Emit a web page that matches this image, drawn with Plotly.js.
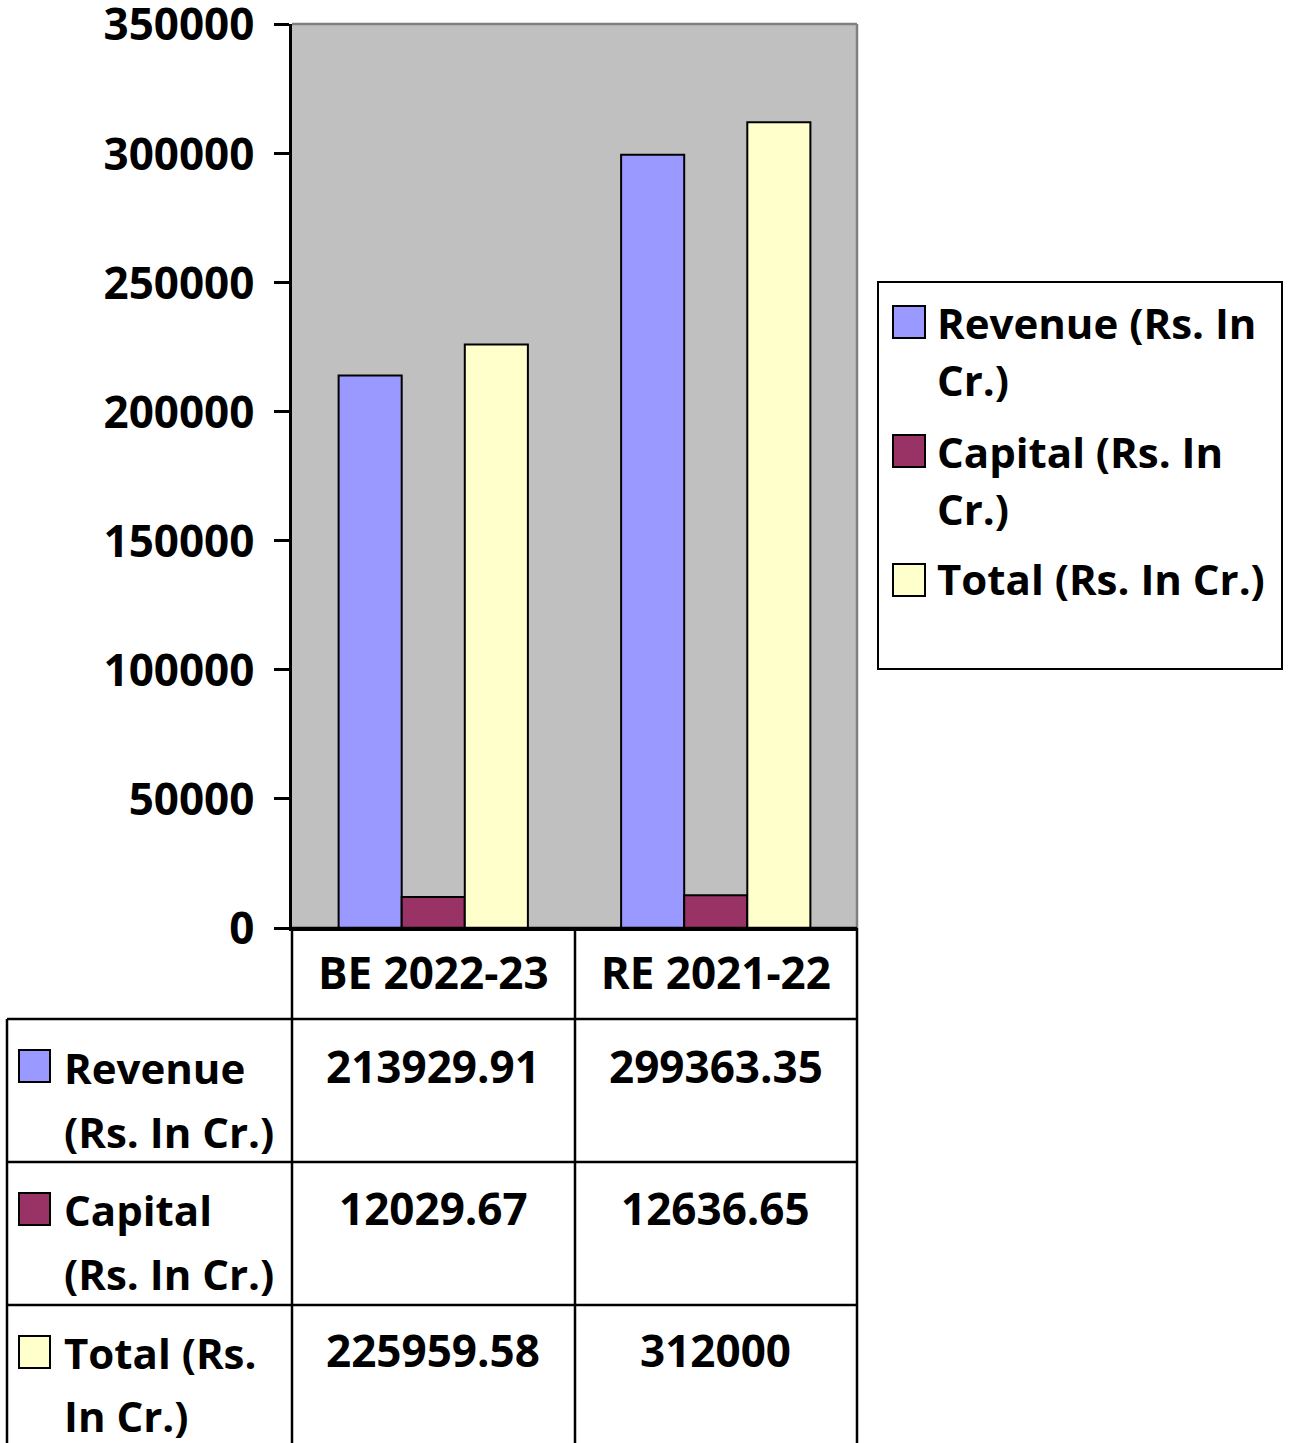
<!DOCTYPE html>
<html>
<head>
<meta charset="utf-8">
<script src="https://cdn.plot.ly/plotly-3.0.1.min.js"></script>
<style>html,body{margin:0;padding:0;background:#fff;}#chart{width:1290px;height:1443px;}</style>
</head>
<body>
<div id="chart"></div>
<script>
const categories = ['BE 2022-23', 'RE 2021-22'];
const revenue = [213929.91, 299363.35];
const capital = [12029.67, 12636.65];
const total = [225959.58, 312000];
const seriesNames = ['Revenue (Rs. In Cr.)', 'Capital (Rs. In Cr.)', 'Total (Rs. In Cr.)'];
const yTicks = [0, 50000, 100000, 150000, 200000, 250000, 300000, 350000];
const legendLines = [['Revenue (Rs. In', 'Cr.)'], ['Capital (Rs. In', 'Cr.)'], ['Total (Rs. In Cr.)']];
const tableLabelLines = [['Revenue', '(Rs. In Cr.)'], ['Capital', '(Rs. In Cr.)'], ['Total (Rs.', 'In Cr.)']];

const colors = ['#9999FF', '#993366', '#FFFFCC'];
const seriesValues = [revenue, capital, total];
const FONT = '"Open Sans", "Noto Sans", sans-serif';
const FS = 42;
const FSNUM = 44;

// pixel -> paper helpers (plot area: x 292..857, y 24..928)
const L = 292, R = 857, T = 24, B = 928;
const px = v => (v - L) / (R - L);
const py = v => (B - v) / (B - T);

const traces = seriesValues.map((vals, i) => ({
  type: 'bar',
  name: seriesNames[i],
  x: categories,
  y: vals,
  marker: {color: colors[i], line: {color: '#000', width: 2}},
  hoverinfo: 'x+y+name'
}));

const shapes = [];
const annotations = [];
const line = (x0, y0, x1, y1, color, w) => shapes.push({type: 'line', xref: 'paper', yref: 'paper',
  x0: px(x0), y0: py(y0), x1: px(x1), y1: py(y1), line: {color: color || '#000', width: w || 2.5}});

// plot area gray border (top & right)
line(L, T, R, T, '#808080', 2.5);
line(R, T, R, B, '#808080', 2.5);

// data table grid
line(L, B, R, B);
[1019, 1162, 1305].forEach(y => line(7, y, R, y));
line(7, 1019, 7, 1460);
[L, 575, R].forEach(x => line(x, B, x, 1460));

const txtFont = {family: FONT, size: FS, weight: 700, color: '#000'};
const numFont = {family: FONT, size: FSNUM, weight: 700, color: '#000'};

// table values
const rowCenters = [1066, 1208, 1350];
seriesValues.forEach((vals, i) => {
  vals.forEach((v, j) => {
    annotations.push({xref: 'x', yref: 'paper', x: categories[j], y: py(rowCenters[i]),
      text: String(v), showarrow: false, xanchor: 'center', yanchor: 'middle', font: numFont});
  });
});

// table row labels and keys
const keyTops = [1050, 1193, 1336];
const labelLineY = [[1067, 1131], [1209, 1273], [1352, 1415]];
tableLabelLines.forEach((lines, i) => {
  shapes.push({type: 'rect', xref: 'paper', yref: 'paper', x0: px(19), x1: px(50),
    y0: py(keyTops[i]), y1: py(keyTops[i] + 32), fillcolor: colors[i], line: {color: '#000', width: 2}});
  lines.forEach((t, k) => annotations.push({xref: 'paper', yref: 'paper', x: px(62), y: py(labelLineY[i][k]),
    text: t, showarrow: false, xanchor: 'left', yanchor: 'middle', font: txtFont}));
});

// legend
shapes.push({type: 'rect', xref: 'paper', yref: 'paper', x0: px(878), x1: px(1282), y0: py(282), y1: py(669),
  fillcolor: 'rgba(0,0,0,0)', line: {color: '#000', width: 2}});
const legKeyTops = [306, 435, 564];
const legLineY = [[322, 379], [451, 508], [579]];
legendLines.forEach((lines, i) => {
  shapes.push({type: 'rect', xref: 'paper', yref: 'paper', x0: px(893), x1: px(925),
    y0: py(legKeyTops[i]), y1: py(legKeyTops[i] + 32), fillcolor: colors[i], line: {color: '#000', width: 2}});
  lines.forEach((t, k) => annotations.push({xref: 'paper', yref: 'paper', x: px(935), y: py(legLineY[i][k]),
    text: t, showarrow: false, xanchor: 'left', yanchor: 'middle', font: txtFont}));
});

const layout = {
  width: 1290, height: 1443,
  margin: {l: L, r: 1290 - R, t: T, b: 1443 - B, pad: 0},
  paper_bgcolor: '#fff',
  plot_bgcolor: '#C0C0C0',
  showlegend: false,
  barmode: 'group',
  bargap: 0.33,
  bargroupgap: 0,
  font: txtFont,
  xaxis: {
    type: 'category',
    showline: true, linecolor: '#000', linewidth: 2.5,
    ticks: '', showgrid: false, zeroline: false,
    tickfont: numFont,
    ticklabelstandoff: 5
  },
  yaxis: {
    range: [0, 350000],
    tickvals: yTicks,
    ticktext: yTicks.map(String),
    showline: true, linecolor: '#000', linewidth: 2.5,
    ticks: 'outside', ticklen: 15, tickwidth: 2.5, tickcolor: '#000',
    showgrid: false, zeroline: false,
    tickfont: numFont,
    ticklabeloverflow: 'allow',
    ticklabelstandoff: 11,
    ticklabelshift: 1
  },
  shapes: shapes,
  annotations: annotations
};

Plotly.newPlot('chart', traces, layout, {displayModeBar: false});
</script>
</body>
</html>
